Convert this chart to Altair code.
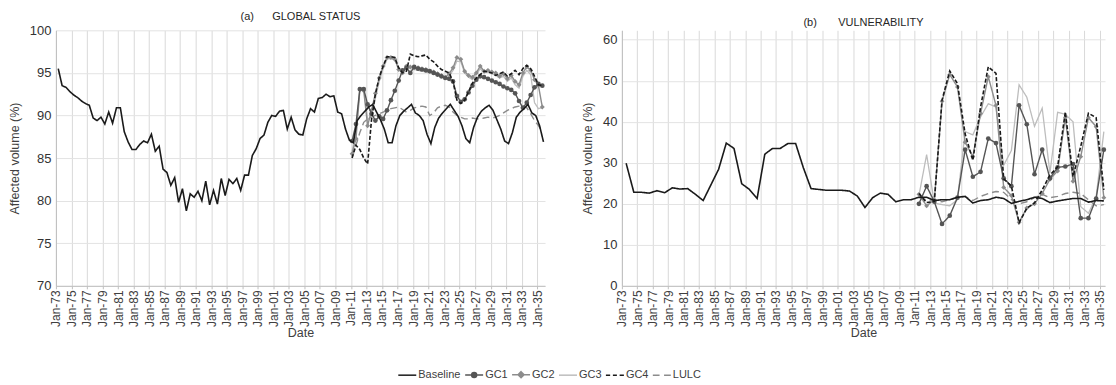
import altair as alt
import pandas as pd

# ---------------- data ----------------
# Panel (a) GLOBAL STATUS: baseline, half-yearly from mid-1973
A_BASELINE = [95.5, 93.5, 93.3, 92.8, 92.4, 92.1, 91.7, 91.4, 91.2, 89.7,
              89.4, 89.8, 89.0, 90.4, 89.1, 90.9, 90.9, 88.1, 86.9, 86.0,
              86.0, 86.6, 87.0, 86.8, 87.8, 85.8, 86.4, 83.7, 83.3, 81.8,
              82.7, 79.8, 81.4, 78.8, 80.8, 80.4, 81.1, 80.0, 82.3, 79.5,
              81.2, 79.6, 82.6, 80.6, 82.5, 82.0, 82.6, 81.2, 83.0, 83.0,
              85.3, 86.1, 87.3, 87.7, 89.2, 90.0, 89.9, 90.5, 90.6, 88.4,
              89.8, 88.3, 87.8, 87.7, 89.6, 90.8, 90.4, 92.0, 92.1, 92.5,
              92.2, 92.3, 90.4, 90.2, 88.4, 87.1, 86.8, 89.4, 90.0, 90.5,
              91.0, 91.3, 90.4, 89.5, 88.4, 86.8, 86.8, 88.8, 90.0, 90.5,
              90.9, 91.3, 90.3, 90.0, 89.4, 87.8, 86.7, 88.6, 89.7, 90.3,
              90.8, 91.3, 90.6, 89.9, 88.8, 87.3, 86.8, 88.6, 89.8, 90.5,
              90.9, 91.2, 90.6, 89.5, 88.4, 87.0, 86.7, 88.0, 89.8, 90.4,
              90.8, 91.3, 90.3, 90.0, 88.8, 86.9]
# Panel (a) scenarios, half-yearly from 2011
A_GC1 = [87.0, 89.0, 93.1, 93.1, 91.3, 90.2, 89.4, 89.9, 89.6, 90.6,
         91.8, 92.9, 94.1, 95.3, 95.6, 95.0, 95.7, 95.5, 95.4, 95.3,
         95.2, 95.0, 94.8, 94.6, 94.4, 94.3, 94.0, 92.3, 91.6, 91.9,
         92.7, 93.5, 94.2, 94.6, 94.5, 94.3, 94.1, 93.9, 93.7, 93.4,
         93.2, 93.0, 92.6, 91.7, 90.9, 91.5, 92.4, 93.3, 93.7, 93.5]
A_GC2 = [85.5, 87.3, 93.0, 92.9, 88.8, 90.6, 92.6, 94.4, 95.8, 96.8,
         96.8, 96.6, 95.4, 95.0, 95.8, 95.7, 95.6, 95.6, 95.5, 95.4,
         95.2, 95.1, 94.9, 94.7, 94.5, 94.9, 95.6, 96.8, 96.6, 95.2,
         94.7, 94.5, 95.0, 95.8, 95.2, 95.3, 95.1, 95.0, 94.6, 94.9,
         94.3, 94.7, 94.0, 93.6, 95.0, 95.7, 95.3, 94.2, 93.5, 91.0]
A_GC3 = [85.8, 88.0, 93.2, 93.2, 89.5, 90.0, 92.0, 94.0, 95.5, 96.6,
         96.7, 96.5, 95.6, 95.2, 95.6, 95.5, 95.4, 95.3, 95.2, 95.1,
         95.0, 94.9, 94.7, 94.5, 94.3, 94.6, 95.3, 96.4, 96.3, 95.0,
         94.5, 94.2, 94.8, 95.5, 95.0, 95.1, 94.9, 94.7, 94.4, 94.6,
         94.0, 94.4, 93.6, 93.2, 94.6, 95.3, 94.8, 91.5, 90.8, 90.9]
A_GC4 = [85.0, 86.5, 86.0, 85.0, 84.3, 89.5, 92.5, 94.5, 95.8, 96.9,
         96.9, 96.8, 95.6, 95.0, 95.2, 97.2, 97.0, 96.9, 97.0, 97.1,
         96.6, 96.3, 95.8, 95.4, 95.2, 95.0, 94.0, 91.8, 91.4, 91.8,
         92.8, 93.8, 94.4, 94.8, 95.2, 95.1, 95.0, 94.7, 94.9, 95.1,
         94.6, 94.9, 95.3, 94.8, 95.5, 95.9, 95.5, 94.6, 93.6, 93.5]
A_LULC = [85.2, 86.5, 88.0, 89.2, 89.6, 89.8, 90.0, 90.2, 90.4, 90.6,
          90.8, 90.9, 91.0, 90.7, 90.4, 90.6, 90.9, 91.0, 91.1, 91.0,
          90.0, 90.3, 90.9, 91.1, 91.2, 91.0, 90.4, 90.0, 89.8, 89.6,
          89.6, 89.7, 89.6, 89.6, 89.7, 89.8, 89.7, 89.8, 90.0, 90.3,
          90.6, 90.8, 91.0, 91.1, 91.2, 90.9, 90.2, 89.4, 88.8, 88.1]

# Panel (b) VULNERABILITY: baseline, yearly from mid-1973
B_BASELINE = [29.9, 22.8, 22.8, 22.6, 23.2, 22.7, 23.9, 23.6, 23.7, 22.3,
              20.8, 24.6, 28.4, 34.8, 33.5, 24.9, 23.5, 21.3, 32.1, 33.5,
              33.5, 34.7, 34.7, 28.8, 23.7, 23.5, 23.3, 23.3, 23.3, 23.1,
              21.9, 19.1, 21.5, 22.6, 22.3, 20.5, 21.0, 21.0, 21.6, 21.6,
              20.8, 21.0, 21.0, 21.6, 21.8, 20.2, 20.8, 21.0, 21.6, 21.3,
              20.1, 20.6, 21.0, 21.6, 21.3, 20.3, 20.7, 21.0, 21.3, 21.3,
              20.4, 20.8, 20.7]
# Panel (b) scenarios, yearly from mid-2011
B_GC1 = [20.0, 24.3, 20.5, 15.1, 17.1, 21.5, 33.2, 26.6, 27.8, 35.9,
         34.8, 26.2, 24.3, 44.0, 39.4, 27.2, 33.2, 26.2, 28.9, 29.1,
         29.7, 16.5, 16.5, 21.3, 33.2]
B_GC2 = [22.3, 19.5, 21.0, 45.0, 51.5, 48.5, 35.0, 31.5, 42.0, 51.0,
         44.0, 24.0, 22.0, 15.5, 19.0, 20.0, 22.5, 26.0, 28.0, 41.0,
         25.5, 31.5, 41.0, 38.8, 21.5]
B_GC3 = [22.0, 32.0, 20.2, 19.8, 19.5, 21.0, 37.6, 36.8, 41.2, 44.4,
         43.6, 29.4, 33.0, 49.0, 46.0, 38.9, 43.3, 27.5, 42.3, 41.8,
         40.0, 19.3, 17.7, 21.7, 37.6]
B_GC4 = [22.5, 20.3, 20.6, 45.3, 52.4, 49.3, 37.0, 30.6, 43.6, 53.4,
         51.8, 26.1, 24.3, 15.4, 18.9, 20.2, 23.4, 27.0, 29.0, 42.4,
         26.6, 34.0, 42.1, 41.0, 23.4]
B_LULC = [21.5, 21.0, 20.8, 20.5, 21.0, 21.5, 21.8, 20.8, 21.8, 22.5,
          23.0, 22.8, 21.0, 20.0, 20.5, 21.5, 22.3, 21.5, 21.8, 22.5,
          22.8, 22.5, 21.0, 19.5, 19.8]

SERIES = ["Baseline", "GC1", "GC2", "GC3", "GC4", "LULC"]
TICK_YEARS = list(range(1973, 2036, 2))
A_YTICKS = [70, 75, 80, 85, 90, 95, 100]
B_YTICKS = [0, 10, 20, 30, 40, 50, 60]
NBSP = "\u00a0"
TITLE_A = NBSP * 14 + "(a)" + NBSP * 6 + "GLOBAL STATUS"
TITLE_B = NBSP * 16 + "(b)" + NBSP * 7 + "VULNERABILITY"

# ---------------- styles ----------------
FONT = "Liberation Sans"
TXT = "#404040"
COLORS = {"Baseline": "#1a1a1a", "GC1": "#555555", "GC2": "#8c8c8c",
          "GC3": "#bdbdbd", "GC4": "#1a1a1a", "LULC": "#8c8c8c"}
DASHES = {"Baseline": [1, 0], "GC1": [1, 0], "GC2": [1, 0], "GC3": [1, 0],
          "GC4": [4, 2], "LULC": [7, 4]}
WIDTHS = {"Baseline": 1.6, "GC1": 1.4, "GC2": 1.4, "GC3": 1.3,
          "GC4": 1.6, "LULC": 1.4}
DRAW_ORDER = ["GC3", "LULC", "GC2", "GC1", "GC4", "Baseline"]
LEGEND_PATHS = [
    "M-1.8,0H1.8",
    "M-1.8,0H1.8M-0.5,0A0.5,0.5,0,1,0,0.5,0A0.5,0.5,0,1,0,-0.5,0Z"
    "M-0.25,0A0.25,0.25,0,1,0,0.25,0A0.25,0.25,0,1,0,-0.25,0Z",
    "M-1.8,0H1.8M0,-0.6L0.6,0L0,0.6L-0.6,0ZM0,-0.3L0.3,0L0,0.3L-0.3,0Z",
    "M-1.8,0H1.8",
    "M-1.8,0H-0.95M-0.4,0H0.4M0.95,0H1.8",
    "M-1.8,0H-0.45M0.45,0H1.8",
]


def frame(series_lists, start_base, start_scen, step):
    rows = []
    for name, vals in series_lists.items():
        start = start_base if name == "Baseline" else start_scen
        for i, v in enumerate(vals):
            rows.append({"series": name, "t": start + step * i, "v": v})
    return pd.DataFrame(rows)


df_a = frame({"Baseline": A_BASELINE, "GC1": A_GC1, "GC2": A_GC2, "GC3": A_GC3,
              "GC4": A_GC4, "LULC": A_LULC}, 1973.3, 2011.15, 0.5)
df_b = frame({"Baseline": B_BASELINE, "GC1": B_GC1, "GC2": B_GC2, "GC3": B_GC3,
              "GC4": B_GC4, "LULC": B_LULC}, 1973.55, 2011.55, 1.0)

LABEL_EXPR = "'Jan-' + (datum.value % 100 < 10 ? '0' : '') + (datum.value % 100)"

LEG = alt.Legend(
    title=None, orient="none", legendX=346, legendY=339,
    direction="horizontal", columns=6, symbolSize=100, symbolStrokeWidth=1.5,
    symbolOpacity=1, labelFont=FONT, labelFontSize=11, labelColor=TXT,
    labelOffset=5, columnPadding=1,
)


def make_panel(df, title, ydom, yticks, xmax, width, height, with_legend):
    xenc = alt.X(
        "t:Q", title="Date",
        scale=alt.Scale(domain=[1973, xmax], nice=False, zero=False),
        axis=alt.Axis(values=TICK_YEARS, labelExpr=LABEL_EXPR, labelAngle=270,
                      labelAlign="right", labelBaseline="middle", grid=True,
                      gridColor="#d9d9d9", domainColor="#bfbfbf",
                      tickColor="#bfbfbf", tickSize=3, labelFont=FONT,
                      labelFontSize=12, labelColor=TXT, labelPadding=1,
                      labelOverlap=False, labelFlush=False, titleFont=FONT,
                      titleFontSize=12.5, titleFontWeight="normal",
                      titleColor=TXT, titlePadding=0))
    yenc = alt.Y(
        "v:Q", title="Affected volume (%)",
        scale=alt.Scale(domain=ydom, nice=False, zero=False),
        axis=alt.Axis(values=yticks, grid=True, gridColor="#e3e3e3",
                      domainColor="#bfbfbf", ticks=False, labelFont=FONT,
                      labelFontSize=13, labelColor="#333333", labelPadding=5,
                      titleFont=FONT, titleFontSize=12.5,
                      titleFontWeight="normal", titleColor=TXT,
                      titlePadding=8))
    base = alt.Chart(df)
    layers = []
    for name in DRAW_ORDER:
        layers.append(
            base.transform_filter(alt.datum.series == name)
            .mark_line(color=COLORS[name], strokeDash=DASHES[name],
                       strokeWidth=WIDTHS[name])
            .encode(x=xenc, y=yenc))
        if name == "GC2":
            layers.append(
                base.transform_filter(alt.datum.series == name)
                .mark_point(shape="diamond", filled=True, size=24,
                            color=COLORS[name], opacity=1)
                .encode(x=xenc, y=yenc))
        if name == "GC1":
            layers.append(
                base.transform_filter(alt.datum.series == name)
                .mark_point(shape="circle", filled=True, size=22,
                            color=COLORS[name], opacity=1)
                .encode(x=xenc, y=yenc))
    if with_legend:
        leg_df = pd.DataFrame({"series": SERIES})
        layers.append(
            alt.Chart(leg_df).transform_filter("false")
            .mark_point(filled=False, strokeWidth=1.5)
            .encode(
                color=alt.Color("series:N", legend=LEG,
                                scale=alt.Scale(domain=SERIES,
                                                range=[COLORS[s] for s in SERIES])),
                shape=alt.Shape("series:N", legend=LEG,
                                scale=alt.Scale(domain=SERIES, range=LEGEND_PATHS))))
    return alt.layer(*layers).properties(
        width=width, height=height,
        title=alt.TitleParams(title, font=FONT, fontSize=11,
                              fontWeight="normal", color="#262626",
                              anchor="middle", offset=2))


panel_a = make_panel(df_a, TITLE_A, [70, 100], A_YTICKS, 2036.0, 490, 256, True)
panel_b = make_panel(df_b, TITLE_B, [0, 62.3], B_YTICKS, 2035.7, 484, 256, False)

chart = (
    alt.hconcat(panel_a, panel_b, spacing=34)
    .properties(padding={"left": 0, "top": 3, "right": 0, "bottom": 0})
    .configure_view(stroke=None)
)

chart.save("out.html", embed_options={"renderer": "svg", "actions": False})
